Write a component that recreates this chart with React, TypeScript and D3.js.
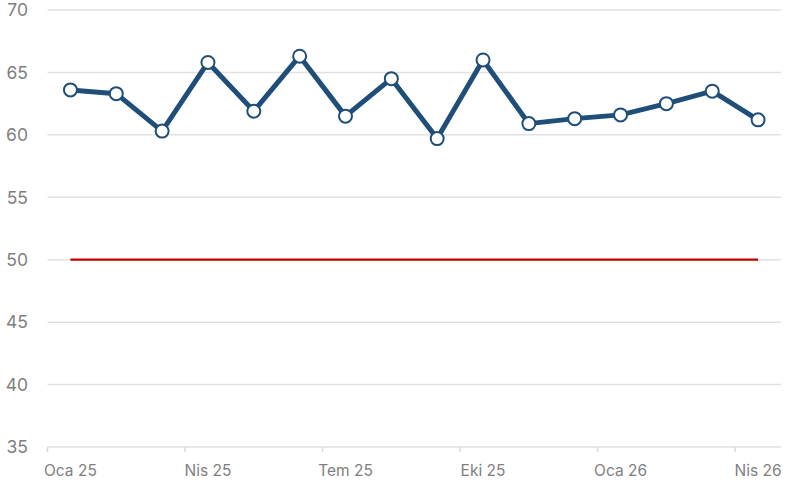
import React from "react";
import * as d3 from "d3";

const months = [
  "Oca 25", "Şub 25", "Mar 25", "Nis 25", "May 25", "Haz 25", "Tem 25", "Ağu 25",
  "Eyl 25", "Eki 25", "Kas 25", "Ara 25", "Oca 26", "Şub 26", "Mar 26", "Nis 26",
];
const values = [63.6, 63.3, 60.3, 65.8, 61.9, 66.3, 61.5, 64.5, 59.7, 66.0, 60.9, 61.3, 61.6, 62.5, 63.5, 61.2];
const threshold = 50;
const yTicks = [35, 40, 45, 50, 55, 60, 65, 70];

const App = () => {
  const width = 785;
  const height = 487;
  const margin = { top: 10, right: 4, bottom: 40, left: 47.5 };

  const xScale = d3.scaleBand<string>()
    .domain(months)
    .range([margin.left, width - margin.right]);
  const yScale = d3.scaleLinear()
    .domain([35, 70])
    .range([height - margin.bottom, margin.top]);

  const cx = (m: string) => (xScale(m) ?? 0) + xScale.bandwidth() / 2;

  const line = d3.line<number>()
    .x((_, i) => cx(months[i]))
    .y((d) => yScale(d));

  const first = cx(months[0]);
  const last = cx(months[months.length - 1]);
  const font = "Inter, 'Open Sans', sans-serif";

  return (
    <svg width={width} height={height} style={{ position: "absolute", left: 0, top: 0 }}>
      {yTicks.map((t) => (
        <g key={t}>
          <line
            x1={margin.left}
            x2={width - margin.right}
            y1={yScale(t)}
            y2={yScale(t)}
            stroke="#e1e1e1"
            strokeWidth={1.5}
          />
          <text
            x={28}
            y={yScale(t)}
            dy="0.36em"
            textAnchor="end"
            fontSize={17.5}
            fontFamily={font}
            fill="#7f7f7f"
          >
            {t}
          </text>
        </g>
      ))}
      {months.map((m, i) =>
        i % 3 === 0 ? (
          <g key={m}>
            <line
              x1={xScale(m)}
              x2={xScale(m)}
              y1={yScale(35)}
              y2={yScale(35) + 5}
              stroke="#d9d9d9"
              strokeWidth={1.5}
            />
            <text
              x={cx(m)}
              y={476}
              textAnchor="middle"
              fontSize={15.5}
              fontFamily={font}
              fill="#7f7f7f"
            >
              {m}
            </text>
          </g>
        ) : null
      )}
      <line
        x1={first}
        x2={last}
        y1={yScale(threshold)}
        y2={yScale(threshold)}
        stroke="#c00000"
        strokeWidth={2.25}
      />
      <path
        d={line(values) ?? ""}
        fill="none"
        stroke="#1f4e79"
        strokeWidth={5}
        strokeLinejoin="round"
      />
      {values.map((v, i) => (
        <circle
          key={i}
          cx={cx(months[i])}
          cy={yScale(v)}
          r={6.5}
          fill="#ffffff"
          stroke="#1f4e79"
          strokeWidth={2}
        />
      ))}
    </svg>
  );
};

export default App;
